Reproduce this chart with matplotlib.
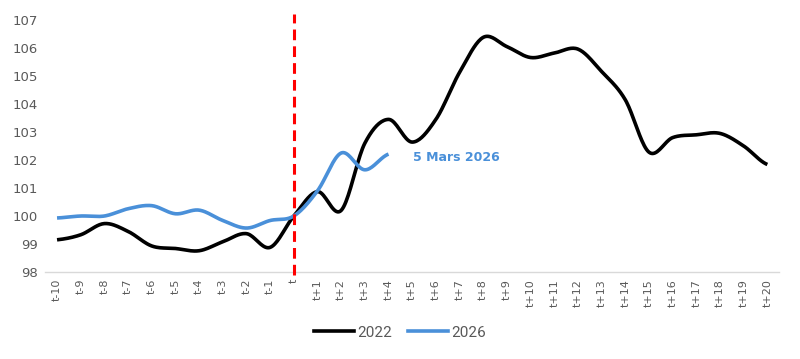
import numpy as np
import matplotlib
matplotlib.use("Agg")
import matplotlib.pyplot as plt
import matplotlib.lines as mlines
from matplotlib import font_manager

# --- data ---
labels = [f"t{i}" for i in range(-10, 0)] + ["t"] + [f"t+{i}" for i in range(1, 21)]
series_2022 = [99.15, 99.33, 99.73, 99.45, 98.93, 98.84, 98.76, 99.08, 99.37, 98.88,
               100.0, 100.87, 100.2, 102.6, 103.45, 102.64, 103.45, 105.13, 106.38,
               106.05, 105.66, 105.82, 105.96, 105.16, 104.15, 102.28, 102.8, 102.9,
               102.95, 102.5, 101.84]
series_2026 = [99.93, 100.0, 100.0, 100.26, 100.37, 100.08, 100.21, 99.84, 99.57, 99.84,
               100.0, 100.9, 102.25, 101.65, 102.21]
annotation = "5 Mars 2026"


def smooth(y, n=20):
    # Catmull-Rom style smoothing like Excel's "smoothed line"
    y = np.asarray(y, dtype=float)
    x = np.arange(len(y), dtype=float)
    p = np.concatenate([[y[0]], y, [y[-1]]])
    xs, ys = [], []
    for i in range(len(y) - 1):
        p0, p1, p2, p3 = p[i], p[i + 1], p[i + 2], p[i + 3]
        t = np.linspace(0, 1, n, endpoint=False)
        c1 = p1 + (p2 - p0) / 6
        c2 = p2 - (p3 - p1) / 6
        yy = (1 - t) ** 3 * p1 + 3 * (1 - t) ** 2 * t * c1 + 3 * (1 - t) * t ** 2 * c2 + t ** 3 * p2
        xs.append(x[i] + t)
        ys.append(yy)
    xs.append([x[-1]])
    ys.append([y[-1]])
    return np.concatenate(xs), np.concatenate(ys)


# narrow font if available
names = {f.name for f in font_manager.fontManager.ttflist}
narrow = "Liberation Sans Narrow" if "Liberation Sans Narrow" in names else "DejaVu Sans"

fig = plt.figure(figsize=(8, 3.59), dpi=100)
ax = fig.add_axes([0.0565, 0.2423, 0.9175, 0.7020])

grey = "#595959"
blue = "#4a90d9"

x22, y22 = smooth(series_2022)
x26, y26 = smooth(series_2026)
ax.plot(x22, y22, color="black", linewidth=2.6, solid_capstyle="butt", zorder=3)
ax.plot(x26, y26, color=blue, linewidth=2.6, solid_capstyle="butt", zorder=4)

# vertical marker at t
ax.plot([10, 10], [97.9, 107.2], color="#ff0000", linewidth=2.2,
        linestyle=(0, (3.5, 2)), clip_on=False, zorder=5)

ax.text(15.05, 102.1, annotation, color=blue, fontsize=9,
        fontweight="bold", va="center", ha="left", family=narrow)

ax.set_xlim(-0.5, 30.5)
ax.set_ylim(98, 107)
ax.set_xticks(range(len(labels)))
ax.set_xticklabels(labels, rotation=90, fontsize=8, color=grey, family=narrow)
ax.set_yticks(range(98, 108))
ax.set_yticklabels([str(v) for v in range(98, 108)], fontsize=9.5, color=grey, family=narrow)
ax.tick_params(length=0, pad=5)

for side in ["top", "right", "left"]:
    ax.spines[side].set_visible(False)
ax.spines["bottom"].set_color("#d9d9d9")
ax.spines["bottom"].set_linewidth(1.0)

handles = [
    mlines.Line2D([], [], color="black", linewidth=2.6, label="2022"),
    mlines.Line2D([], [], color=blue, linewidth=2.6, label="2026"),
]
fig.legend(handles=handles, loc="center", bbox_to_anchor=(0.5, 0.073), ncol=2,
           frameon=False, prop={"family": "Roboto", "size": 11}, labelcolor=grey,
           handlelength=2.6, handletextpad=0.2, columnspacing=1.1)

fig.savefig("out.png", dpi=100)
